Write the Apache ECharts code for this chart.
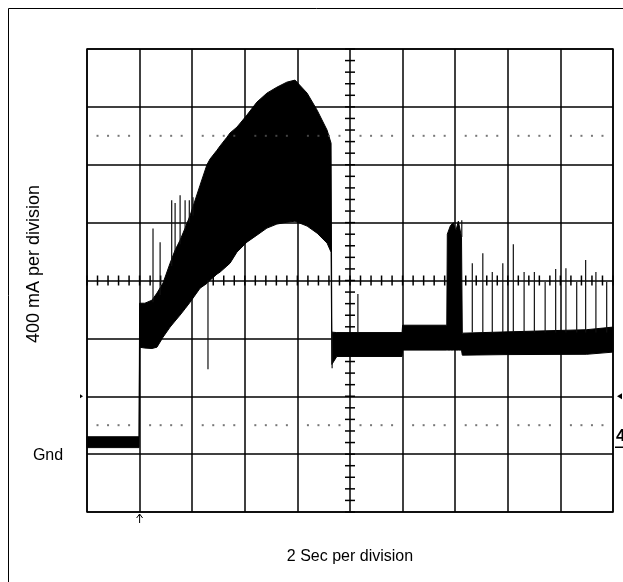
<!DOCTYPE html>
<html>
<head>
<meta charset="utf-8">
<script src="https://cdn.jsdelivr.net/npm/echarts@6/dist/echarts.min.js"></script>
<style>
html, body { margin: 0; padding: 0; background: #fff; }
#main { width: 623px; height: 582px; }
</style>
</head>
<body>
<div id="main"></div>
<script>
// time in s (2 s per division), current in mA (400 mA per division)
// envelope of the trace: upper and lower edge of the black band
var envT  = [0.00, 1.98, 2.00, 2.20, 2.47, 2.66, 2.89, 3.16, 3.35, 3.54, 3.73, 3.92, 4.30, 4.56, 4.68, 4.94, 5.06, 5.32, 5.44, 5.70, 6.08, 6.46, 6.84, 7.22, 7.60, 7.91, 8.37, 8.75, 9.13, 9.28, 9.31, 9.50, 11.98, 12.00, 13.68, 13.70, 13.82, 13.93, 14.02, 14.12, 14.24, 14.27, 16.00, 19.00, 20.00];
var envHi = [120, 120, 1043, 1043, 1064, 1113, 1182, 1320, 1410, 1479, 1562, 1650, 1859, 2000, 2040, 2100, 2130, 2190, 2220, 2260, 2343, 2433, 2495, 2536, 2571, 2585, 2495, 2377, 2239, 2149, 843, 840, 840, 891, 891, 1520, 1580, 1600, 1540, 1610, 1500, 836, 845, 860, 878];
var envLo = [45, 45, 739, 733, 730, 739, 808, 878, 920, 961, 1005, 1050, 1147, 1180, 1202, 1244, 1258, 1300, 1320, 1396, 1465, 1513, 1562, 1590, 1603, 1610, 1576, 1527, 1458, 1396, 620, 675, 675, 719, 719, 719, 719, 719, 719, 719, 719, 684, 688, 690, 705];

// isolated glitches: time, start level, end level
var spikeT    = [2.51, 2.78, 3.22, 3.35, 3.54, 3.73, 3.89, 4.03, 4.60, 9.32, 10.30, 14.25, 14.65, 15.05, 15.41, 15.81, 16.21, 16.62, 17.01, 17.42, 17.82, 18.21, 18.62, 18.96, 19.35, 19.76];
var spikeFrom = [1050, 1100, 1300, 1400, 1450, 1550, 1600, 1650, 1202, 843, 840, 1500, 840, 840, 840, 840, 840, 840, 840, 840, 840, 840, 840, 840, 840, 840];
var spikeTo   = [1560, 1465, 1755, 1735, 1790, 1755, 1755, 1776, 587, 594, 1106, 1617, 1320, 1389, 1258, 1320, 1451, 1258, 1258, 1189, 1279, 1285, 1189, 1341, 1258, 1189];

// dotted cursor levels
var dotLevels = [200, 2200];

var chart = echarts.init(document.getElementById('main'));

var tickData = [];
for (var k = 0; k <= 50; k++) tickData.push(['x', k * 0.4]);
for (var k = 0; k <= 40; k++) tickData.push(['y', -400 + k * 80]);

var dotData = [];
dotLevels.forEach(function (lv) {
  for (var k = 0; k < 50; k++) {
    if (k % 5 !== 0) dotData.push([k * 0.4, lv]);
  }
});

var option = {
  animation: false,
  grid: { left: 87, top: 49, width: 526, height: 463, show: true, borderColor: '#000', borderWidth: 1.5 },
  xAxis: {
    type: 'value', min: 0, max: 20, interval: 2,
    axisLine: { show: false }, axisTick: { show: false }, axisLabel: { show: false },
    splitLine: { show: true, lineStyle: { color: '#000', width: 1.5 } }
  },
  yAxis: {
    type: 'value', min: -400, max: 2800, interval: 400,
    axisLine: { show: false }, axisTick: { show: false }, axisLabel: { show: false },
    splitLine: { show: true, lineStyle: { color: '#000', width: 1.5 } }
  },
  series: [
    {
      // centre reticle with minor ticks
      type: 'custom',
      silent: true,
      data: tickData,
      renderItem: function (params, api) {
        var d = tickData[params.dataIndex];
        var p;
        if (d[0] === 'x') {
          p = api.coord([d[1], 1200]);
          return { type: 'line', shape: { x1: p[0], y1: p[1] - 5, x2: p[0], y2: p[1] + 5 }, style: { stroke: '#000', lineWidth: 1.5 } };
        }
        p = api.coord([10, d[1]]);
        return { type: 'line', shape: { x1: p[0] - 5, y1: p[1], x2: p[0] + 5, y2: p[1] }, style: { stroke: '#000', lineWidth: 1.5 } };
      },
      encode: { x: -1, y: -1 }
    },
    {
      type: 'scatter',
      silent: true,
      symbol: 'rect',
      symbolSize: 2,
      itemStyle: { color: '#555' },
      data: dotData
    },
    {
      // trace envelope
      type: 'custom',
      silent: true,
      data: envT.map(function (t, i) { return [t, envHi[i], envLo[i]]; }),
      renderItem: function (params, api) {
        if (params.dataIndex !== 0) return null;
        var pts = [];
        for (var i = 0; i < envT.length; i++) pts.push(api.coord([envT[i], envHi[i]]));
        for (var j = envT.length - 1; j >= 0; j--) pts.push(api.coord([envT[j], envLo[j]]));
        return { type: 'polygon', shape: { points: pts }, style: { fill: '#000', stroke: '#000', lineWidth: 1 } };
      },
      encode: { x: 0, y: [1, 2] }
    },
    {
      type: 'custom',
      silent: true,
      data: spikeT.map(function (t, i) { return [t, spikeFrom[i], spikeTo[i]]; }),
      renderItem: function (params, api) {
        var a = api.coord([api.value(0), api.value(1)]);
        var b = api.coord([api.value(0), api.value(2)]);
        return { type: 'line', shape: { x1: a[0], y1: a[1], x2: b[0], y2: b[1] }, style: { stroke: '#111', lineWidth: 1.2 } };
      },
      encode: { x: 0, y: [1, 2] }
    }
  ]
};
chart.setOption(option);

// frame, labels and scope markers
var trig = chart.convertToPixel({ gridIndex: 0 }, [2, -400]);
var gnd = chart.convertToPixel({ gridIndex: 0 }, [0, 400]);
var gndR = chart.convertToPixel({ gridIndex: 0 }, [20, 400]);
var txt = { fill: '#000', fontFamily: 'Liberation Sans, Arial, sans-serif', fontSize: 16 };
chart.setOption({
  graphic: [
    { type: 'rect', shape: { x: 8.5, y: 8.5, width: 700, height: 700 }, style: { fill: null, stroke: '#000', lineWidth: 1 }, silent: true },
    { type: 'text', x: 34, y: 264, rotation: Math.PI / 2, style: Object.assign({}, txt, { text: '400 mA per division', fontSize: 18, textAlign: 'center', textVerticalAlign: 'middle' }) },
    { type: 'text', x: 48, y: 456, style: Object.assign({ text: 'Gnd', textAlign: 'center', textVerticalAlign: 'middle' }, txt) },
    { type: 'text', x: 350, y: 557, style: Object.assign({ text: '2 Sec per division', textAlign: 'center', textVerticalAlign: 'middle' }, txt) },
    { type: 'polyline', shape: { points: [[trig[0], trig[1] + 11], [trig[0], trig[1] + 2]] }, style: { stroke: '#000', lineWidth: 1 } },
    { type: 'polyline', shape: { points: [[trig[0] - 3, trig[1] + 6], [trig[0], trig[1] + 2], [trig[0] + 3, trig[1] + 6]] }, style: { stroke: '#000', fill: null, lineWidth: 1 } },
    { type: 'polygon', shape: { points: [[gnd[0] - 7, gnd[1] - 2], [gnd[0] - 4, gnd[1]], [gnd[0] - 7, gnd[1] + 2]] }, style: { fill: '#000' } },
    { type: 'polygon', shape: { points: [[gndR[0] + 9, gndR[1] - 3], [gndR[0] + 4, gndR[1]], [gndR[0] + 9, gndR[1] + 3]] }, style: { fill: '#000' } },
    { type: 'text', x: gndR[0] + 3, y: gndR[1] + 40, style: { text: '4', fill: '#000', fontFamily: 'Liberation Sans, Arial, sans-serif', fontWeight: 'bold', fontSize: 17, textVerticalAlign: 'middle' } },
    { type: 'line', shape: { x1: gndR[0] + 2, y1: gndR[1] + 51, x2: gndR[0] + 12, y2: gndR[1] + 51 }, style: { stroke: '#000', lineWidth: 1.5 } }
  ]
});
</script>
</body>
</html>
